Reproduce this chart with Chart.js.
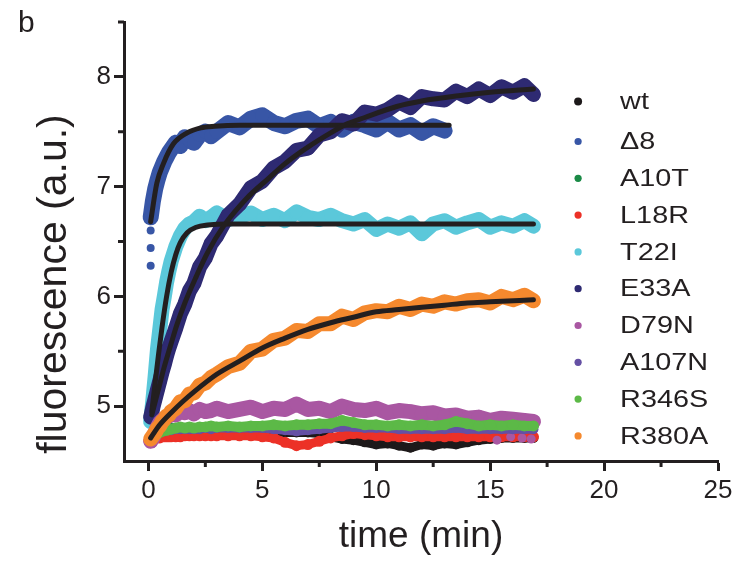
<!DOCTYPE html>
<html>
<head>
<meta charset="utf-8">
<title>fluorescence vs time</title>
<script src="https://cdn.jsdelivr.net/npm/chart.js@4.4.1/dist/chart.umd.min.js"></script>
<style>
  html, body { margin: 0; padding: 0; background: #fff; }
</style>
</head>
<body>
<canvas id="fluoChart" width="753" height="568"></canvas>
<script>
// sampling times (min), shared by every measured trace
const time = [0.1, 0.2, 0.3, 0.4, 0.5, 0.6, 0.7, 0.8, 0.9, 1.0,
              1.2, 1.4, 1.6, 1.8, 2.0, 2.25, 2.5, 2.75, 3.0,
              3.5, 4, 4.5, 5, 5.5, 6, 6.5, 7, 7.5, 8, 8.5, 9, 9.5, 10,
              10.5, 11, 11.5, 12, 12.5, 13, 13.5, 14, 14.5, 15, 15.5, 16, 16.5, 16.9];

const wtValues    = [4.70, 4.71, 4.72, 4.73, 4.74, 4.75, 4.75, 4.76, 4.76, 4.76,
                     4.76, 4.77, 4.77, 4.77, 4.77, 4.77, 4.77, 4.77, 4.77,
                     4.77, 4.77, 4.77, 4.77, 4.77, 4.76, 4.76, 4.76, 4.75, 4.72, 4.70, 4.69, 4.67, 4.65,
                     4.66, 4.64, 4.62, 4.65, 4.64, 4.66, 4.65, 4.67, 4.69, 4.70, 4.71, 4.71, 4.71, 4.71];
const d8Values    = [6.72, 6.87, 6.98, 7.06, 7.13, 7.18, 7.23, 7.27, 7.31, 7.34,
                     7.40, 7.37, 7.45, 7.42, 7.40, 7.47, 7.50, 7.46, 7.50,
                     7.58, 7.54, 7.62, 7.65, 7.58, 7.55, 7.60, 7.62, 7.55, 7.59, 7.52, 7.59, 7.56, 7.52,
                     7.59, 7.52, 7.56, 7.49, 7.55, 7.51, null, null, null, null, null, null, null, null];
const a10tValues  = [4.72, 4.74, 4.75, 4.76, 4.77, 4.78, 4.78, 4.79, 4.79, 4.80,
                     4.80, 4.80, 4.80, 4.80, 4.80, 4.80, 4.80, 4.80, 4.80,
                     4.81, 4.81, 4.81, 4.81, 4.81, 4.81, 4.81, 4.81, 4.81, 4.81, 4.84, 4.82, 4.82, 4.82,
                     4.82, 4.82, 4.82, 4.82, 4.82, 4.82, 4.82, 4.82, 4.82, 4.82, 4.82, 4.82, 4.82, 4.82];
const l18rValues  = [4.70, 4.70, 4.71, 4.71, 4.71, 4.72, 4.72, 4.72, 4.72, 4.72,
                     4.72, 4.72, 4.73, 4.73, 4.73, 4.73, 4.73, 4.73, 4.73,
                     4.73, 4.73, 4.73, 4.72, 4.71, 4.67, 4.64, 4.65, 4.68, 4.71, 4.73, 4.75, 4.74, 4.73,
                     4.72, 4.72, 4.72, 4.72, 4.72, 4.72, 4.72, 4.72, 4.72, 4.72, 4.72, 4.72, 4.72, 4.72];
const t22iValues  = [4.86, 5.06, 5.28, 5.52, 5.70, 5.88, 6.00, 6.13, 6.23, 6.32,
                     6.45, 6.55, 6.62, 6.66, 6.68, 6.73, 6.69, 6.72, 6.76,
                     6.70, 6.73, 6.76, 6.70, 6.74, 6.69, 6.77, 6.72, 6.70, 6.74, 6.69, 6.66, 6.70, 6.61,
                     6.66, 6.62, 6.67, 6.57, 6.66, 6.69, 6.63, 6.67, 6.70, 6.63, 6.67, 6.64, 6.69, 6.64];
const e33aValues  = [4.90, 4.99, 5.07, 5.15, 5.23, 5.31, 5.38, 5.46, 5.53, 5.59,
                     5.71, 5.84, 5.93, 6.05, 6.12, 6.27, 6.35, 6.48, 6.55,
                     6.74, 6.84, 6.99, 7.05, 7.17, 7.23, 7.33, 7.35, 7.47, 7.50, 7.60, 7.57, 7.68, 7.66,
                     7.70, 7.77, 7.72, 7.82, 7.80, 7.79, 7.87, 7.82, 7.89, 7.83, 7.91, 7.86, 7.92, 7.84];
const d79nValues  = [4.68, 4.71, 4.76, 4.81, 4.85, 4.87, 4.89, 4.90, 4.91, 4.93,
                     4.92, 4.95, 4.94, 4.96, 4.93, 4.97, 4.95, 4.96, 4.98,
                     4.95, 4.97, 4.99, 4.95, 4.98, 4.97, 5.02, 4.97, 4.98, 4.95, 5.00, 4.97, 4.96, 4.98,
                     4.94, 4.96, 4.95, 4.93, 4.94, 4.91, 4.92, 4.89, 4.90, 4.87, 4.89, 4.88, 4.87, 4.86];
const a107nValues = [4.71, 4.73, 4.74, 4.75, 4.76, 4.77, 4.77, 4.78, 4.78, 4.78,
                     4.79, 4.79, 4.79, 4.79, 4.79, 4.79, 4.80, 4.79, 4.80,
                     4.80, 4.80, 4.80, 4.80, 4.79, 4.78, 4.77, 4.78, 4.79, 4.80, 4.81, 4.81, 4.80, 4.80,
                     4.80, 4.79, 4.79, 4.79, 4.79, 4.79, 4.80, 4.79, 4.79, 4.79, 4.79, 4.79, 4.79, 4.79];
const r346sValues = [4.71, 4.73, 4.74, 4.75, 4.76, 4.77, 4.78, 4.78, 4.79, 4.79,
                     4.80, 4.81, 4.80, 4.81, 4.80, 4.81, 4.81, 4.82, 4.81,
                     4.82, 4.81, 4.82, 4.82, 4.83, 4.82, 4.83, 4.83, 4.84, 4.84, 4.87, 4.85, 4.83, 4.83,
                     4.82, 4.83, 4.82, 4.83, 4.82, 4.83, 4.86, 4.84, 4.82, 4.83, 4.82, 4.83, 4.82, 4.82];
const r380aValues = [4.70, 4.73, 4.76, 4.80, 4.82, 4.86, 4.88, 4.91, 4.92, 4.95,
                     4.98, 5.04, 5.05, 5.11, 5.12, 5.19, 5.21, 5.26, 5.29,
                     5.36, 5.39, 5.50, 5.52, 5.60, 5.62, 5.69, 5.68, 5.75, 5.75, 5.82, 5.79, 5.85, 5.87,
                     5.86, 5.91, 5.88, 5.93, 5.91, 5.95, 5.93, 5.96, 5.97, 5.94, 6.00, 5.97, 6.01, 5.96];

// stray points away from the main bands
const d8StartTime = [0.1, 0.1, 0.1];
const d8StartValues = [6.28, 6.44, 6.60];
const d79nStrayTime = [0.2, 15.3, 15.9, 16.4, 16.8];
const d79nStrayValues = [4.66, 4.69, 4.72, 4.71, 4.70];

// fitted curves (black lines)
const d8FitTime = [0.1, 0.37, 0.66, 1.1, 1.7, 2.3, 2.9, 4, 6, 13.2];
const d8FitValues = [6.68, 7.03, 7.21, 7.39, 7.49, 7.535, 7.55, 7.56, 7.56, 7.56];
const t22iFitTime = [0.15, 0.3, 0.45, 0.6, 0.8, 1.0, 1.2, 1.4, 1.7, 2.1, 2.6, 3.5, 16.9];
const t22iFitValues = [4.95, 5.22, 5.48, 5.72, 6.00, 6.22, 6.38, 6.49, 6.58, 6.63, 6.65, 6.66, 6.66];
const e33aFitTime = [0.15, 0.4, 0.7, 1.0, 1.25, 1.6, 2.1, 2.6, 3.3, 4.3, 5.3, 6.0, 7.0, 8.0, 8.6, 9.5, 10.9, 12, 13.7, 15, 16.9];
const e33aFitValues = [4.92, 5.12, 5.36, 5.57, 5.74, 5.94, 6.18, 6.40, 6.64, 6.89, 7.08, 7.21, 7.36, 7.49, 7.56, 7.63, 7.73, 7.78, 7.83, 7.86, 7.89];
const r380aFitTime = [0.1, 0.5, 1.0, 1.5, 2.0, 3.0, 4.0, 5.0, 6.0, 7.0, 8.0, 9.0, 10, 11, 12, 13, 14, 15, 16.9];
const r380aFitValues = [4.71, 4.83, 4.94, 5.04, 5.13, 5.29, 5.41, 5.53, 5.62, 5.70, 5.76, 5.81, 5.86, 5.88, 5.90, 5.92, 5.94, 5.95, 5.97];

const seriesNames = ['wt', 'Δ8', 'A10T', 'L18R', 'T22I', 'E33A', 'D79N', 'A107N', 'R346S', 'R380A'];
const seriesColors = ['#1d191a', '#3856a6', '#1a8a46', '#ec3127', '#5bc8da', '#2e2a72', '#a957a2', '#6550a4', '#5cb947', '#f5892e'];

const xTicks = [0, 5, 10, 15, 20, 25];
const xMinorTicks = [2.5, 7.5, 12.5, 17.5, 22.5];
const yTicks = [5, 6, 7, 8];
const yMinorTicks = [5.5, 6.5, 7.5, 8.5];

const ink = '#231f20';
const fontFamily = "'Liberation Sans', Arial, Helvetica, sans-serif";
const bandWidth = [9, 16, 9, 9, 15, 15, 15, 9, 10, 15];
const dotRadius = [5, 7, 5, 5.5, 6.5, 7, 7, 5, 5.5, 6.5];

const toPoints = (xs, ys) => xs.map((x, i) => ({x: x, y: ys[i]})).filter(p => p.y !== null);

const measured = [wtValues, d8Values, a10tValues, l18rValues, t22iValues,
                  e33aValues, d79nValues, a107nValues, r346sValues, r380aValues];

const datasets = [];
measured.forEach((vals, i) => {
    const c = seriesColors[i];
    datasets.push({
        label: seriesNames[i],
        data: toPoints(time, vals),
        showLine: true,
        borderColor: c,
        backgroundColor: c,
        borderWidth: bandWidth[i],
        borderJoinStyle: 'round',
        borderCapStyle: 'round',
        pointRadius: dotRadius[i],
        pointBorderWidth: 0,
        pointHoverRadius: 0,
        tension: 0
    });
    if (i === 1) {
        datasets.push({ data: toPoints(d8StartTime, d8StartValues), showLine: false,
            backgroundColor: c, pointRadius: 4, pointBorderWidth: 0 });
    }
    if (i === 6) {
        datasets.push({ data: toPoints(d79nStrayTime, d79nStrayValues), showLine: false,
            backgroundColor: c, pointRadius: 4.5, pointBorderWidth: 0 });
    }
});

[[d8FitTime, d8FitValues], [t22iFitTime, t22iFitValues],
 [e33aFitTime, e33aFitValues], [r380aFitTime, r380aFitValues]].forEach(([t, v]) => {
    datasets.push({
        data: toPoints(t, v),
        showLine: true,
        borderColor: ink,
        borderWidth: 5,
        borderCapStyle: 'round',
        pointRadius: 0,
        cubicInterpolationMode: 'monotone'
    });
});

// later datasets are painted on top, like the original plot order
datasets.forEach((d, i) => { d.order = datasets.length - i; });

const panelDecor = {
    id: 'panelDecor',
    afterDraw(chart) {
        const {ctx, chartArea, scales: {x, y}} = chart;
        ctx.save();
        ctx.strokeStyle = ink;
        ctx.lineWidth = 3;
        xMinorTicks.forEach(v => {
            const px = x.getPixelForValue(v);
            ctx.beginPath();
            ctx.moveTo(px, chartArea.bottom);
            ctx.lineTo(px, chartArea.bottom + 6);
            ctx.stroke();
        });
        yMinorTicks.forEach(v => {
            const py = y.getPixelForValue(v);
            ctx.beginPath();
            ctx.moveTo(chartArea.left, py);
            ctx.lineTo(chartArea.left - 6, py);
            ctx.stroke();
        });

        // legend inside the plot, right side
        const markX = x.getPixelForValue(18.86);
        const textX = markX + 42;
        ctx.font = '24px ' + fontFamily;
        ctx.textBaseline = 'middle';
        ctx.textAlign = 'left';
        seriesNames.forEach((name, i) => {
            const rowY = i === 0 ? 101.5 : 141.5 + (i - 1) * 36.8;
            ctx.fillStyle = seriesColors[i];
            ctx.beginPath();
            ctx.arc(markX, rowY, i === 0 ? 4 : 3.6, 0, Math.PI * 2);
            ctx.fill();
            ctx.fillStyle = ink;
            ctx.save();
            ctx.translate(textX, rowY + 1);
            ctx.scale(1.2, 1);
            ctx.fillText(name, 0, 0);
            ctx.restore();
        });

        // y title
        ctx.save();
        ctx.translate(66, 284);
        ctx.rotate(-Math.PI / 2);
        ctx.font = '41px ' + fontFamily;
        ctx.textAlign = 'center';
        ctx.textBaseline = 'alphabetic';
        ctx.fillStyle = ink;
        ctx.fillText('fluorescence (a.u.)', 0, 0);
        ctx.restore();

        // panel letter
        ctx.font = '30px ' + fontFamily;
        ctx.textAlign = 'left';
        ctx.textBaseline = 'alphabetic';
        ctx.fillStyle = ink;
        ctx.fillText('b', 18, 32);
        ctx.restore();
    }
};

Chart.defaults.font.family = fontFamily;
Chart.defaults.color = ink;

new Chart(document.getElementById('fluoChart').getContext('2d'), {
    type: 'scatter',
    data: { datasets: datasets },
    plugins: [panelDecor],
    options: {
        responsive: false,
        animation: false,
        devicePixelRatio: 1,
        layout: { padding: { top: 22, right: 35, left: 0, bottom: 0 } },
        plugins: { legend: { display: false }, tooltip: { enabled: false } },
        scales: {
            x: {
                type: 'linear',
                min: -1.07,
                max: 25,
                afterFit: scale => { scale.height = 107; },
                afterBuildTicks: scale => { scale.ticks = xTicks.map(v => ({value: v})); },
                border: { display: true, color: ink, width: 3 },
                grid: { display: true, drawOnChartArea: false, drawTicks: true, tickLength: 10, tickWidth: 3, tickColor: ink },
                ticks: { font: { size: 26 }, color: ink, padding: 4, maxRotation: 0 },
                title: { display: true, text: 'time (min)', font: { size: 37 }, color: ink, padding: { top: 0, bottom: 9 } }
            },
            y: {
                type: 'linear',
                min: 4.5,
                max: 8.5,
                afterFit: scale => { scale.width = 124; },
                afterBuildTicks: scale => { scale.ticks = yTicks.map(v => ({value: v})); },
                border: { display: true, color: ink, width: 3 },
                grid: { display: true, drawOnChartArea: false, drawTicks: true, tickLength: 10, tickWidth: 3, tickColor: ink },
                ticks: { font: { size: 26 }, color: ink, padding: 3 },
                title: { display: false }
            }
        }
    }
});
</script>
</body>
</html>
